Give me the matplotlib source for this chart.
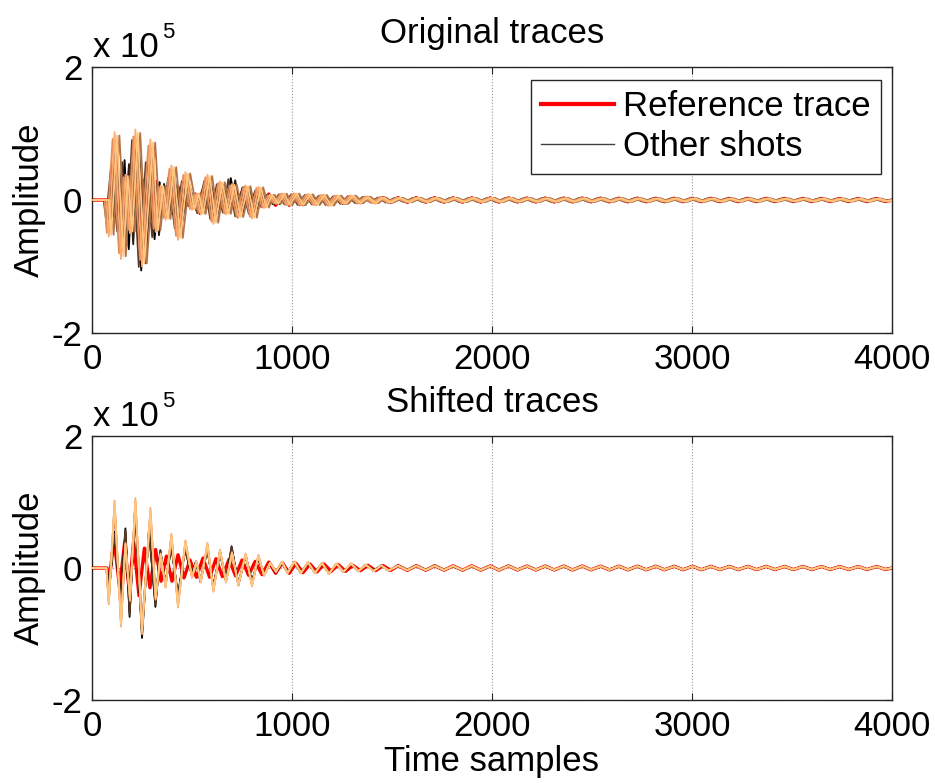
import numpy as np
import matplotlib.pyplot as plt
from matplotlib.lines import Line2D

plt.rcParams['font.family'] = ['Liberation Sans', 'DejaVu Sans']

# amplitudes are in units of 1e5, positions in time samples

# early part of the larger (light) shots, aligned to the reference
light_t = [0, 72, 84, 113, 145, 167, 190, 217, 250, 292, 318, 343, 368, 397, 430, 467,
           500, 522, 544, 577, 607, 640, 670, 700, 732, 768, 800, 832, 860, 890, 920,
           950, 978, 1012, 1045, 1080, 1115, 1150, 1185, 1222, 1258, 1295, 1332, 1370,
           1408, 1446, 1484]
light_a = [0, 0, -0.55, 1.02, -0.89, 0.38, -0.5, 1.06, -1.0, 0.91, -0.48, 0.22, -0.3,
           0.52, -0.6, 0.42, -0.15, 0.1, -0.22, 0.38, -0.36, 0.28, -0.22, 0.24, -0.27,
           0.22, -0.28, 0.2, -0.12, 0.08, -0.06, 0.1, -0.08, 0.1, -0.08, 0.09, -0.08,
           0.08, -0.09, 0.07, -0.06, 0.07, -0.05, 0.05, -0.05, 0.04, -0.04]

# early part of the darker shots
dark_t = [0, 74, 86, 112, 142, 167, 188, 216, 250, 285, 317, 342, 367, 397, 430, 465,
          498, 520, 542, 577, 607, 640, 670, 698, 732, 768, 800, 832, 860, 890, 920,
          950, 978, 1012, 1045, 1080, 1115, 1150, 1185, 1222, 1258, 1295, 1332, 1370,
          1408, 1446, 1484]
dark_a = [0, 0, -0.3, 0.55, -0.5, 0.6, -0.74, 0.95, -1.06, 0.6, -0.59, 0.27, -0.25,
          0.35, -0.45, 0.3, -0.1, 0.1, -0.21, 0.3, -0.3, 0.25, -0.2, 0.33, -0.26, 0.2,
          -0.22, 0.15, -0.1, 0.08, -0.07, 0.09, -0.07, 0.09, -0.08, 0.08, -0.07, 0.07,
          -0.08, 0.06, -0.06, 0.06, -0.05, 0.05, -0.04, 0.04, -0.04]

# reference shot
ref_t = [0, 75, 86, 110, 138, 163, 186, 208, 235, 262, 290, 318, 345, 372, 400, 430,
         460, 490, 522, 555, 588, 620, 652, 685, 718, 750, 783, 816, 850, 884, 918,
         952, 986, 1020, 1055, 1090, 1125, 1160, 1196, 1232, 1268, 1305, 1342, 1380,
         1418, 1456, 1494]
ref_a = [0, 0, -0.2, 0.45, -0.3, 0.38, -0.35, 0.4, -0.42, 0.3, -0.3, 0.28, -0.2, 0.18,
         -0.2, 0.2, -0.15, 0.12, -0.14, 0.15, -0.14, 0.14, -0.13, 0.13, -0.12, 0.12,
         -0.11, 0.1, -0.1, 0.09, -0.08, 0.08, -0.08, 0.07, -0.07, 0.06, -0.06, 0.06,
         -0.05, 0.05, -0.05, 0.04, -0.04, 0.04, -0.04, 0.035, -0.035]

# late low-level ringing common to all traces
tail_t = [1530, 1577, 1621, 1669, 1713, 1761, 1805, 1853, 1899, 1944, 1991, 2035, 2083,
          2127, 2175, 2219, 2266, 2311, 2359, 2403, 2451, 2495, 2543, 2587, 2635, 2679,
          2727, 2771, 2819, 2863, 2911, 2955, 3003, 3047, 3095, 3139, 3187, 3231, 3279,
          3323, 3371, 3415, 3463, 3507, 3555, 3599, 3647, 3691, 3739, 3783, 3831, 3875,
          3923, 3967, 4000]
tail_a = [0.035, -0.035, 0.035, -0.033, 0.035, -0.033, 0.033, -0.033, 0.033, -0.032,
          0.032, -0.032, 0.032, -0.03, 0.03, -0.03, 0.03, -0.03, 0.03, -0.03, 0.03,
          -0.028, 0.028, -0.028, 0.028, -0.028, 0.028, -0.027, 0.027, -0.027, 0.027,
          -0.026, 0.026, -0.026, 0.026, -0.025, 0.025, -0.025, 0.025, -0.025, 0.025,
          -0.024, 0.024, -0.024, 0.024, -0.024, 0.024, -0.023, 0.023, -0.023, 0.023,
          -0.023, 0.023, -0.022, 0.0]

# other shots: waveform type, gain and time shift before alignment
shot_kind = ['dark', 'dark', 'dark', 'light', 'light', 'light', 'light', 'light']
shot_gain = [1.0, 0.9, 0.95, 0.85, 0.95, 0.9, 1.0, 0.95]
shot_shift = [-4, 18, -16, 8, 24, -10, 0, 12]

x_ticks = [0, 1000, 2000, 3000, 4000]
y_ticks = [-2, 0, 2]
y_ticklabels = ['-2', '0', '2']

FS = 25

ref_full_t = np.array(ref_t + tail_t)
ref_full_a = np.array(ref_a + tail_a)
waves = {
    'light': (np.array(light_t + tail_t), np.array(light_a + tail_a)),
    'dark': (np.array(dark_t + tail_t), np.array(dark_a + tail_a)),
}
copper = plt.get_cmap('copper')
n_shots = len(shot_kind)


def draw_panel(ax, title, shifted):
    ax.plot(ref_full_t, ref_full_a, color='red', lw=2.4, zorder=2,
            solid_joinstyle='round')
    for i in range(n_shots):
        t, a = waves[shot_kind[i]]
        if not shifted:
            t = t + shot_shift[i]
        ax.plot(t, a * shot_gain[i], color=copper(i / (n_shots - 1)), lw=1.3, zorder=3,
                solid_joinstyle='round')
    ax.set_xlim(0, 4000)
    ax.set_ylim(-2, 2)
    ax.set_xticks(x_ticks)
    ax.set_xticklabels([str(v) for v in x_ticks])
    ax.set_yticks(y_ticks)
    ax.set_yticklabels(y_ticklabels)
    ax.tick_params(direction='in', length=5, width=0.8, top=True, right=True,
                   labelsize=FS, pad=7, colors='#262626', labelcolor='black')
    for s in ax.spines.values():
        s.set_color('#262626')
        s.set_linewidth(1.0)
    ax.grid(True, linestyle=':', color='#999999', lw=0.8)
    ax.set_axisbelow(True)
    ax.set_title(title, fontsize=FS, pad=17)
    ax.set_ylabel('Amplitude', fontsize=FS, labelpad=4)


fig = plt.figure(figsize=(9.35, 7.83), dpi=100)
ax1 = fig.add_axes([92 / 935, 1 - 333 / 783, 800 / 935, 266 / 783])
ax2 = fig.add_axes([92 / 935, 1 - 700 / 783, 800 / 935, 264 / 783])

draw_panel(ax1, 'Original traces', shifted=False)
draw_panel(ax2, 'Shifted traces', shifted=True)
ax2.set_xlabel('Time samples', fontsize=FS, labelpad=2)

# MATLAB-style exponent labels above each axes
for base in (0, 369):
    fig.text(93 / 935, 1 - (57 + base) / 783, 'x 10', fontsize=FS, va='baseline')
    fig.text(162 / 935, 1 - (38 + base) / 783, '5', fontsize=16, va='baseline')

handles = [Line2D([], [], color='red', lw=3),
           Line2D([], [], color='#404040', lw=1.0)]
leg = ax1.legend(handles, ['Reference trace', 'Other shots'], loc='upper right',
                 bbox_to_anchor=(881 / 935, 1 - 80 / 783), bbox_transform=fig.transFigure,
                 borderaxespad=0, fontsize=FS, handlelength=2.1, handletextpad=0.25,
                 labelspacing=0.2, borderpad=0.3, fancybox=False, framealpha=1)
leg.get_frame().set_edgecolor('#262626')
leg.get_frame().set_linewidth(1.0)

fig.savefig('out.png', dpi=100)
